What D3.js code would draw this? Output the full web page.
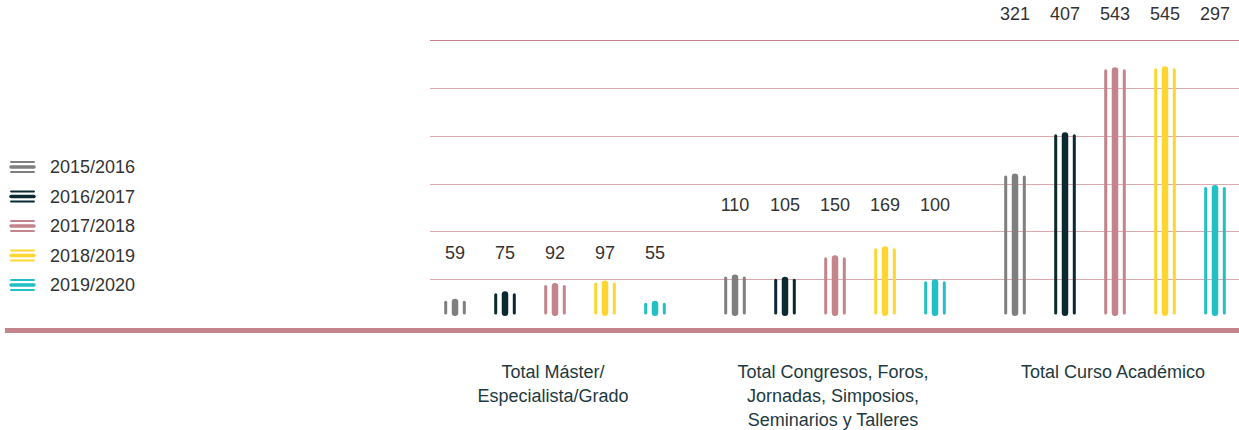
<!DOCTYPE html>
<html>
<head>
<meta charset="utf-8">
<script src="https://cdn.jsdelivr.net/npm/d3@7"></script>
<style>
  html, body { margin: 0; padding: 0; background: #fff; }
  svg { display: block; font-family: "Liberation Sans", Arial, Helvetica, sans-serif; }
</style>
</head>
<body>
<svg id="chart" width="1239" height="430"></svg>
<script>
// ---- data ----
const groups = ["master", "congresos", "curso"];
const groupLabels = [
  ["Total Máster/", "Especialista/Grado"],
  ["Total Congresos, Foros,", "Jornadas, Simposios,", "Seminarios y Talleres"],
  ["Total Curso Académico"]
];
const years = ["2015/2016", "2016/2017", "2017/2018", "2018/2019", "2019/2020"];
const values2015 = [59, 110, 321];
const values2016 = [75, 105, 407];
const values2017 = [92, 150, 543];
const values2018 = [97, 169, 545];
const values2019 = [55, 100, 297];
const gridTicks = [100, 200, 300, 400, 500, 600];
const colors = ["#7f7f7f", "#0b2930", "#c4848b", "#fdd632", "#22bfc4"];

const series = [values2015, values2016, values2017, values2018, values2019];

// ---- layout ----
const W = 1239, H = 430;
const svg = d3.select("#chart");

const y = d3.scaleLinear().domain([0, 600]).range([327, 40]);
const x0 = d3.scaleBand().domain(groups).range([430, 1270]);
const x1 = d3.scaleBand().domain(years).range([0, 250]);
const color = d3.scaleOrdinal().domain(years).range(colors);
const barBottom = 316;

// grid lines
svg.append("g").selectAll("line").data(gridTicks).join("line")
  .attr("x1", 430).attr("x2", W)
  .attr("y1", d => Math.round(y(d)) + 0.5).attr("y2", d => Math.round(y(d)) + 0.5)
  .attr("stroke", d => d === 600 ? "#c98189" : "#dcaab0")
  .attr("stroke-width", 1);

// baseline axis
svg.append("line")
  .attr("x1", 5).attr("x2", W)
  .attr("y1", 330.5).attr("y2", 330.5)
  .attr("stroke", "#c5848b").attr("stroke-width", 5);

// bars: three rounded vertical strokes each
const cells = [];
groups.forEach((g, gi) => {
  years.forEach((yr, yi) => {
    cells.push({ g, gi, yr, v: series[yi][gi] });
  });
});

const bar = svg.append("g").selectAll("g").data(cells).join("g")
  .attr("transform", d => `translate(${x0(d.g) + x1(d.yr) + x1.bandwidth() / 2},0)`);

bar.append("line")
  .attr("x1", 0).attr("x2", 0)
  .attr("y1", d => y(d.v) + 3.25).attr("y2", barBottom - 3.25)
  .attr("stroke", d => color(d.yr)).attr("stroke-width", 6.5).attr("stroke-linecap", "round");

[-9.3, 9.3].forEach(dx => {
  bar.append("line")
    .attr("x1", dx).attr("x2", dx)
    .attr("y1", d => y(d.v) + 3.5).attr("y2", barBottom - 3)
    .attr("stroke", d => color(d.yr)).attr("stroke-width", 3).attr("stroke-linecap", "round");
});

// value labels, per group above the next grid level
const groupMax = groups.map((g, gi) => d3.max(series, s => s[gi]));
bar.append("text")
  .attr("x", 0)
  .attr("y", d => y(Math.ceil(groupMax[d.gi] / 100) * 100) - 26)
  .attr("text-anchor", "middle")
  .attr("dominant-baseline", "central")
  .attr("font-size", 18)
  .attr("fill", "#333")
  .text(d => d.v);

// category labels
const cat = svg.append("g").selectAll("text").data(groups).join("text")
  .attr("text-anchor", "middle")
  .attr("font-size", 18)
  .attr("fill", "#1d3a41")
  .attr("transform", d => `translate(${x0(d) + 123},378)`);
cat.selectAll("tspan").data((d, i) => groupLabels[i]).join("tspan")
  .attr("x", 0).attr("dy", (d, i) => i === 0 ? 0 : 24)
  .text(d => d);

// legend
const legend = svg.append("g").selectAll("g").data(years).join("g")
  .attr("transform", (d, i) => `translate(0,${167 + i * 29.5})`);
legend.append("line").attr("x1", 11).attr("x2", 34).attr("y1", 0).attr("y2", 0)
  .attr("stroke", d => color(d)).attr("stroke-width", 3.5).attr("stroke-linecap", "round");
[-5, 5].forEach(dy => {
  legend.append("line").attr("x1", 11).attr("x2", 34).attr("y1", dy).attr("y2", dy)
    .attr("stroke", d => color(d)).attr("stroke-width", 1.8).attr("stroke-linecap", "round");
});
legend.append("text").attr("x", 50).attr("y", 0)
  .attr("dominant-baseline", "central")
  .attr("font-size", 18).attr("fill", "#333")
  .text(d => d);
</script>
</body>
</html>
